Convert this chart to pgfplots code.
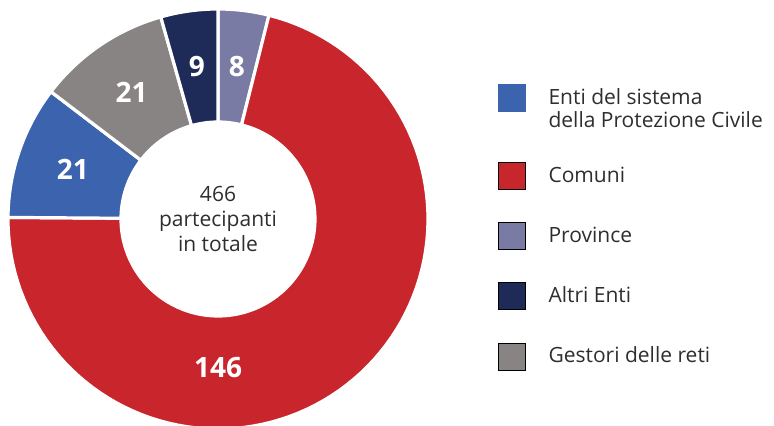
\documentclass[border=0pt]{standalone}
\usepackage{pgfplots}
\pgfplotsset{compat=1.18}
\usepackage{fontspec}
\setmainfont{Open Sans}
\definecolor{cEnti}{HTML}{3C63AE}
\definecolor{cCom}{HTML}{C8262C}
\definecolor{cProv}{HTML}{7A7BA5}
\definecolor{cAltri}{HTML}{1E2A57}
\definecolor{cGest}{HTML}{898484}
\definecolor{txt}{HTML}{2E2E2E}
\tikzset{lab/.style={text=white, font=\fontsize{21}{25}\selectfont\bfseries}}
% data
\def\vProv{8}
\def\vCom{146}
\def\vEnti{21}
\def\vGest{21}
\def\vAltri{9}
% geometry (axis units = px)
\def\cx{218}
\def\cy{206}
\def\Ro{210}
\def\Ri{97}
\def\Rm{153.5}
\pgfmathsetmacro\tot{\vProv+\vCom+\vEnti+\vGest+\vAltri}
\pgfmathsetmacro\aA{90}
\pgfmathsetmacro\aB{\aA-\vProv/\tot*360}
\pgfmathsetmacro\aC{\aB-\vCom/\tot*360}
\pgfmathsetmacro\aD{\aC-\vEnti/\tot*360}
\pgfmathsetmacro\aE{\aD-\vGest/\tot*360}
\pgfmathsetmacro\aF{\aE-\vAltri/\tot*360}
\pgfmathsetmacro\mProv{(\aA+\aB)/2}
\pgfmathsetmacro\mEnti{(\aC+\aD)/2}
\pgfmathsetmacro\mGest{(\aD+\aE)/2}
\pgfmathsetmacro\mAltri{(\aE+\aF)/2}
\newcommand{\slice}[3]{%
\addplot[fill=#1, draw=white, line width=2.4pt, line join=miter, domain=0:2.2, samples=221, variable=\s, forget plot]
 ({\cx + (\Ro - (\Ro-\Ri)*min(max(\s-1,0)/0.2,1))*cos((#2) + ((#3)-(#2))*min(\s,1) - ((#3)-(#2))*max(\s-1.2,0))},
  {\cy + (\Ro - (\Ro-\Ri)*min(max(\s-1,0)/0.2,1))*sin((#2) + ((#3)-(#2))*min(\s,1) - ((#3)-(#2))*max(\s-1.2,0))}) -- cycle;
}
\begin{document}
\begin{tikzpicture}
\begin{axis}[
  width=580.5pt, height=318.75pt, scale only axis,
  xmin=0, xmax=774, ymin=0, ymax=425,
  hide axis,
  legend image code/.code={\fill[#1] (0pt,-5.25pt) rectangle (20.25pt,15pt);},
  legend cell align=left,
  legend style={at={(axis description cs:0.6434,0.8023)}, anchor=north west,
    draw=none, fill=none, inner sep=0pt, outer sep=0pt,
    row sep=24.5pt, column sep=17.25pt,
    font=\fontsize{15.75}{17.25}\selectfont, text=txt,
    nodes={inner sep=0pt, outer sep=0pt, anchor=base west, align=left}},
]
\slice{cProv}{\aA}{\aB}
\slice{cCom}{\aB}{\aC}
\slice{cEnti}{\aC}{\aD}
\slice{cGest}{\aD}{\aE}
\slice{cAltri}{\aE}{\aF}

\addlegendimage{legend image code/.code={\fill[cEnti] (0pt,12pt) rectangle (20.25pt,32.25pt);}}
\addlegendentry{Enti del sistema\\della Protezione Civile}
\addlegendimage{fill=cCom}
\addlegendentry{Comuni}
\addlegendimage{fill=cProv}
\addlegendentry{Province}
\addlegendimage{fill=cAltri}
\addlegendentry{Altri Enti}
\addlegendimage{fill=cGest}
\addlegendentry{Gestori delle reti}

\node[lab] at (axis cs:{\cx+\Rm*cos(\mProv)},{\cy+\Rm*sin(\mProv)}) {8};
\node[lab] at (axis cs:{\cx+\Rm*cos(\mAltri)},{\cy+\Rm*sin(\mAltri)}) {9};
\node[lab] at (axis cs:{\cx+\Rm*cos(\mEnti)},{\cy+\Rm*sin(\mEnti)}) {21};
\node[lab] at (axis cs:{\cx+\Rm*cos(\mGest)},{\cy+\Rm*sin(\mGest)}) {21};
\node[lab] at (axis cs:{\cx},{\cy-149}) {146};
\node[text=txt, align=center, font=\fontsize{15.75}{18.4}\selectfont] at (axis cs:218,206) {466\\partecipanti\\in totale};
\end{axis}
\pgfresetboundingbox
\path (current axis.south west) rectangle (current axis.north east);
\end{tikzpicture}
\end{document}
